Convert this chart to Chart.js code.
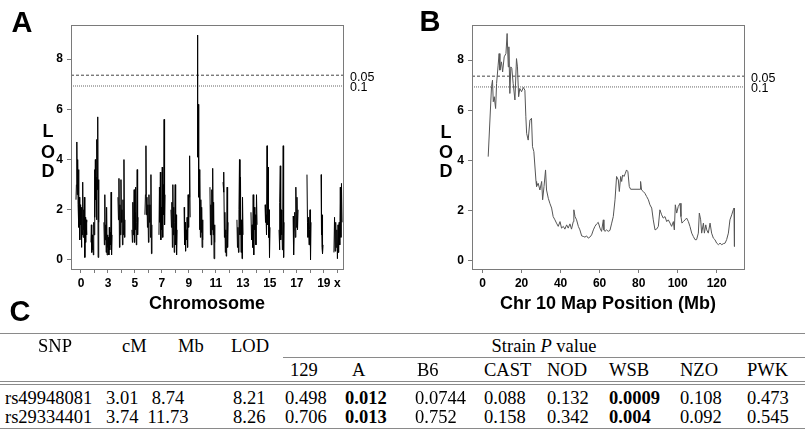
<!DOCTYPE html>
<html><head><meta charset="utf-8">
<script src="https://cdn.jsdelivr.net/npm/chart.js@4"></script>
<style>
body{margin:0;background:#fff;width:805px;height:430px;position:relative;overflow:hidden;font-family:"Liberation Sans",Arial,sans-serif;color:#000}
.c{position:absolute;white-space:nowrap;line-height:1;transform:translate(-50%,-50%)}
.l{position:absolute;white-space:nowrap;line-height:1;transform:translate(0,-50%)}
.r{position:absolute;white-space:nowrap;line-height:1;transform:translate(-100%,-50%)}
canvas{position:absolute;top:0}
.pl{font-weight:bold;font-size:29px}
.ax{font-weight:bold;font-size:18px}
.tb{font-family:"Liberation Serif","Times New Roman",serif;font-size:18.5px}
.rule{position:absolute;height:0;border-top:1px solid #8a8a8a}
</style></head>
<body>
<canvas id="cA" width="400" height="320" style="left:0;width:400px;height:320px"></canvas>
<canvas id="cB" width="405" height="320" style="left:400px;width:405px;height:320px"></canvas>

<div class="c pl" style="left:22px;top:22px">A</div>
<div class="c pl" style="left:430px;top:21px">B</div>
<div class="c pl" style="left:20px;top:311px">C</div>

<div class="c ax" style="left:48px;top:131px">L</div>
<div class="c ax" style="left:48px;top:152px">O</div>
<div class="c ax" style="left:48px;top:171px">D</div>
<div class="c ax" style="left:446px;top:132px">L</div>
<div class="c ax" style="left:446px;top:152px">O</div>
<div class="c ax" style="left:446px;top:171px">D</div>
<div class="c ax" style="left:207px;top:303px">Chromosome</div>
<div class="c ax" style="left:608px;top:303px">Chr 10 Map Position (Mb)</div>

<div id="table"></div>

<script>
// ---------------- Panel A data: genome scan, LOD per chromosome ----------------
const chrTickLabels = ['0','','3','','5','','7','','9','','11','','13','','15','','17','','19','x'];
const chrStart = [0.63,1.74,2.70,3.74,4.78,5.74,6.78,7.67,8.64,9.60,10.56,11.53,12.56,13.60,14.64,15.68,16.72,17.75,18.79,19.75];
const chrEnd   = [1.44,2.33,3.30,4.26,5.23,6.26,7.23,8.12,9.09,10.04,10.93,11.90,13.01,14.05,15.01,16.05,17.09,18.05,18.94,20.35];
const chr1  = [2.4,3.0,4.7,2.6,4.0,2.2,3.6,1.3,2.5,0.8,2.2,1.4,2.0,0.5,2.1,1.0,3.1,0.9,2.0,1.2,2.5,0.1,1.7,0.7,1.6,1.0,1.5];
const chr2  = [0.7,1.4,0.3,1.0,0.4,0.8,0.2,1.5,1.0,3.6,1.7,4.0,2.4,3.3,1.6,4.8,2.8,5.7,0.1,3.2,1.5];
const chr3  = [1.5,0.6,2.6,0.8,1.4,0.3,2.1,0.2,1.0,0.5,0.9,0.2,1.3,0.4,1.1,0.6,2.7,0.2,1.0];
const chr4  = [2.5,1.6,3.25,0.5,2.2,1.0,3.2,1.5,2.0,0.6,2.4,1.0,4.0,0.9,1.6];
const chr5  = [1.2,0.7,2.3,1.0,1.6,2.8,0.7,1.9,1.2,2.9,0.6,1.5,3.6,1.0,1.7];
const chr6  = [1.8,2.6,4.55,1.8,2.5,1.3,2.2,0.7,2.6,1.5,2.2,0.9,3.4,0.25,1.4];
const chr7  = [1.0,2.9,1.5,3.5,0.8,2.1,1.2,3.7,0.9,3.0,1.8,5.6,1.4,2.6];
const chr8  = [2.0,1.3,2.3,0.5,3.0,1.0,2.1,0.3,1.5,3.0,0.6,1.8,0.2,1.2];
const chr9  = [2.1,0.6,1.5,0.35,1.2,0.8,1.7,0.5,2.6,1.3,2.5,4.15,1.7];
const chr10 = [4.1,8.96,4.1,6.2,2.5,3.6,1.2,3.3,0.9,2.4,1.1,2.1,0.5,1.6,0.8];
const chr11 = [2.9,1.0,2.2,0.6,2.8,1.2,3.65,1.0,2.3,0.05,1.4,0.7];
const chr12 = [3.1,2.7,3.5,0.9,1.9,0.3,1.2,0.15,1.0,2.9,0.5,1.5];
const chr13 = [1.6,0.5,1.3,0.3,2.0,4.0,1.0,3.3,0.3,1.6,0.05,2.5,1.0];
const chr14 = [1.9,0.8,1.4,0.5,2.6,0.2,2.1,1.2,1.8,0.6,2.6,1.4];
const chr15 = [2.2,1.5,1.8,1.0,4.55,1.4,3.7,0.9,2.0,0.1,1.3];
const chr16 = [1.2,0.4,2.3,3.75,0.8,2.0,1.0,1.7,0.4,2.0,4.55,0.1,1.5];
const chr17 = [1.75,0.2,1.2,1.9,0.9,2.9,1.3,2.5,1.2,2.0];
const chr18 = [3.4,1.5,0.9,1.7,0.6,1.2,2.0,0.0,1.5];
const chr19 = [3.4,1.0,1.9,0.5,1.8,0.25,0.6];
const chrX  = [0.3,1.7,0.35,1.5,0.5,1.2,0.05,1.4,0.3,1.5,0.6,2.9,0.9,3.05,1.5];
const chrLod = [chr1,chr2,chr3,chr4,chr5,chr6,chr7,chr8,chr9,chr10,chr11,chr12,chr13,chr14,chr15,chr16,chr17,chr18,chr19,chrX];

// significance thresholds (genome-wide)
const thr05 = 7.36, thr10 = 6.93;
const lodTicks = [0,2,4,6,8];

// ---------------- Panel B data: chromosome 10 detail ----------------
const mbTicks = [0,20,40,60,80,100,120];
const mbPos = [2.9,4.6,5.1,5.5,6.0,6.7,7.2,8.0,8.5,8.9,9.7,10.3,11.1,12.0,12.6,13.2,13.5,14.0,14.5,15.0,15.7,16.6,17.4,17.9,18.5,19.1,20.0,20.9,21.7,22.2,22.6,23.4,24.3,25.1,25.6,26.3,27.4,27.7,28.5,29.4,30.3,30.8,31.5,32.3,32.8,33.7,34.5,35.4,36.2,37.1,37.9,38.8,39.7,40.5,41.4,42.2,43.1,43.9,44.8,45.6,46.5,46.8,47.4,48.2,49.1,49.9,50.8,51.6,52.5,53.3,54.2,55.0,55.9,56.8,57.6,58.5,59.3,60.2,61.0,61.9,62.2,62.7,63.6,64.4,65.3,66.2,67.0,67.9,68.7,69.6,70.1,70.8,71.3,71.8,72.5,73.2,73.8,74.5,75.2,75.9,80.7,81.0,81.5,82.4,83.2,84.1,85.0,85.8,86.7,87.5,88.4,89.2,90.1,90.9,91.8,92.6,93.5,94.4,95.2,96.1,96.9,97.8,98.3,98.8,99.5,100.3,101.2,101.7,102.2,102.9,103.8,104.6,105.5,106.3,107.2,108.0,108.9,109.7,110.6,111.1,111.8,112.3,113.2,113.7,114.4,114.9,115.7,116.6,117.4,118.3,119.1,120.0,120.9,121.7,122.6,123.4,124.3,125.1,126.0,126.8,127.7,128.5,128.9,129.1];
const lodChr10 = [4.15,6.94,7.2,6.34,6.54,6.07,7.07,7.8,8.26,7.6,7.93,7.53,8.13,8.26,9.06,7.73,8.53,6.67,7.73,7.67,7.07,6.41,8.06,7.73,6.54,6.87,6.74,6.91,6.8,5.74,5.08,4.81,5.61,5.68,4.55,4.35,3.16,2.96,3.09,2.82,3.16,2.43,2.96,3.62,2.82,2.49,2.29,2.1,1.76,1.63,1.5,1.37,1.56,1.3,1.37,1.26,1.43,1.3,1.47,1.26,1.56,2.03,1.76,1.63,1.37,1.23,0.99,0.97,0.94,0.99,0.9,0.94,1.03,1.23,1.37,1.47,1.53,1.3,1.17,1.63,1.23,1.17,1.23,1.17,1.21,1.5,1.76,2.43,3.36,3.22,2.76,3.36,3.16,3.42,3.36,3.49,3.62,3.55,2.96,2.85,2.85,3.16,2.82,2.76,2.69,2.56,2.43,2.23,2.1,1.63,1.23,1.26,1.37,2.03,1.83,1.7,1.76,1.56,1.63,1.5,1.37,1.56,1.23,2.23,1.9,2.16,2.29,1.76,1.5,1.56,1.63,1.7,1.56,1.37,1.1,0.97,0.84,0.84,1.1,1.9,1.63,1.1,1.5,1.1,1.43,1.23,1.1,1.5,1.1,0.9,0.84,0.7,0.64,0.7,0.64,0.68,0.7,0.84,1.1,1.63,1.83,2.03,2.1,0.57];

// ---------------- Table C data ----------------
const snpIds = ['rs49948081','rs29334401'];
const snpCM = ['3.01','3.74'];
const snpMb = ['8.74','11.73'];
const snpLod = ['8.21','8.26'];
const strains = ['129','A','B6','CAST','NOD','WSB','NZO','PWK'];
const pRow1 = ['0.498','0.012','0.0744','0.088','0.132','0.0009','0.108','0.473'];
const pRow2 = ['0.706','0.013','0.752','0.158','0.342','0.004','0.092','0.545'];
const pRows = [pRow1, pRow2];

// ---------------- drawing ----------------
const SANS = '"Liberation Sans", Arial, sans-serif';
const frame = {
  id:'frame',
  afterDatasetsDraw(chart){
    const {ctx, chartArea:a, scales:{y}} = chart;
    ctx.save();
    ctx.strokeStyle = '#7a7a7a'; ctx.lineWidth = 1;
    ctx.strokeRect(Math.round(a.left)+0.5, Math.round(a.top)+0.5, Math.round(a.right-a.left), Math.round(a.bottom-a.top));
    ctx.fillStyle = '#000'; ctx.font = '12.5px ' + SANS; ctx.textBaseline = 'middle'; ctx.textAlign = 'left';
    ctx.fillText('0.05', a.right + 7, y.getPixelForValue(thr05) + 2);
    ctx.fillText('0.1', a.right + 7, y.getPixelForValue(thr10) + 2);
    ctx.restore();
  }
};

function thresholdSets(xmin, xmax){
  return [
    {data:[{x:xmin,y:thr05},{x:xmax,y:thr05}], borderColor:'#444', borderWidth:1, borderDash:[3,2], pointRadius:0},
    {data:[{x:xmin,y:thr10},{x:xmax,y:thr10}], borderColor:'#666', borderWidth:1, borderDash:[1,1], pointRadius:0}
  ];
}

function baseScales(xmin, xmax, xTicks, xLabel, ymin, ymax, yWidth){
  const tickFont = {family:SANS, size:12, weight:'bold'};
  return {
    x:{type:'linear', min:xmin, max:xmax,
       afterBuildTicks:s=>{s.ticks = xTicks.map(v=>({value:v}));},
       ticks:{autoSkip:false, maxRotation:0, color:'#000', font:tickFont, padding:3,
              callback:(v,i)=>xLabel(v,i)},
       grid:{drawOnChartArea:false, tickLength:4, color:'#7a7a7a'},
       border:{display:false},
       afterFit:s=>{s.height = 51;}},
    y:{type:'linear', min:ymin, max:ymax,
       afterBuildTicks:s=>{s.ticks = lodTicks.map(v=>({value:v}));},
       ticks:{color:'#000', font:tickFont, padding:4},
       grid:{drawOnChartArea:false, tickLength:4, color:'#7a7a7a'},
       border:{display:false},
       afterFit:s=>{s.width = yWidth;}}
  };
}

const commonOpts = {
  responsive:false, animation:false, devicePixelRatio:1,
  plugins:{legend:{display:false}, tooltip:{enabled:false}},
  elements:{line:{tension:0}}
};

// Panel A
const xMinA = 0.26, xMaxA = 20.42;
const dsA = chrLod.map((vals,i)=>({
  data: vals.map((v,j)=>({x: chrStart[i] + (chrEnd[i]-chrStart[i]) * j / (vals.length-1), y: v})),
  borderColor:'#000', borderWidth:1, pointRadius:0
}));
new Chart(document.getElementById('cA'), {
  type:'line',
  data:{datasets: dsA.concat(thresholdSets(xMinA, xMaxA))},
  options:Object.assign({}, commonOpts, {
    layout:{padding:{top:25, right:57, left:0, bottom:0}},
    scales: baseScales(xMinA, xMaxA, chrTickLabels.map((_,i)=>i+1), (v,i)=>chrTickLabels[i], -0.36, 9.36, 71)
  }),
  plugins:[frame]
});

// Panel B
const xMinB = -5.4, xMaxB = 134;
new Chart(document.getElementById('cB'), {
  type:'line',
  data:{datasets:[
    {data: mbPos.map((m,i)=>({x:m, y:lodChr10[i]})), borderColor:'#555', borderWidth:1, pointRadius:0}
  ].concat(thresholdSets(xMinB, xMaxB))},
  options:Object.assign({}, commonOpts, {
    layout:{padding:{top:25, right:61, left:0, bottom:0}},
    scales: baseScales(xMinB, xMaxB, mbTicks, (v,i)=>String(v), -0.33, 9.4, 72)
  }),
  plugins:[frame]
});

// Table C
(function(){
  const root = document.getElementById('table');
  function txt(cls, s, x, y, bold){
    const d = document.createElement('div');
    d.className = cls + ' tb'; d.style.left = x + 'px'; d.style.top = y + 'px';
    if (bold) d.style.fontWeight = 'bold';
    d.innerHTML = s; root.appendChild(d);
  }
  function rule(x1, x2, y){
    const d = document.createElement('div'); d.className = 'rule';
    d.style.left = x1 + 'px'; d.style.width = (x2 - x1) + 'px'; d.style.top = y + 'px';
    root.appendChild(d);
  }
  rule(0, 805, 333); rule(283, 805, 357); rule(0, 805, 381); rule(0, 805, 384); rule(0, 805, 428);
  const yH1 = 346, yH2 = 370, yR = [398, 417];
  txt('l','SNP',38,yH1); txt('l','cM',122,yH1); txt('l','Mb',178,yH1); txt('l','LOD',231,yH1);
  txt('c','Strain <i>P</i> value',544,yH1);
  const hdrX = [290,352,417,484,547,609,680,747];
  strains.forEach((s,i)=>txt('l', s, hdrX[i], yH2));
  const valX = [285,345,415,484,547,609,680,747];
  for (let r = 0; r < 2; r++){
    txt('l', snpIds[r], 5, yR[r]);
    txt('l', snpCM[r], 106, yR[r]);
    txt('c', snpMb[r], 168, yR[r]);
    txt('l', snpLod[r], 233, yR[r]);
    pRows[r].forEach((p,i)=>txt('l', p, valX[i], yR[r], parseFloat(p) < 0.05));
  }
})();
</script>
</body></html>
